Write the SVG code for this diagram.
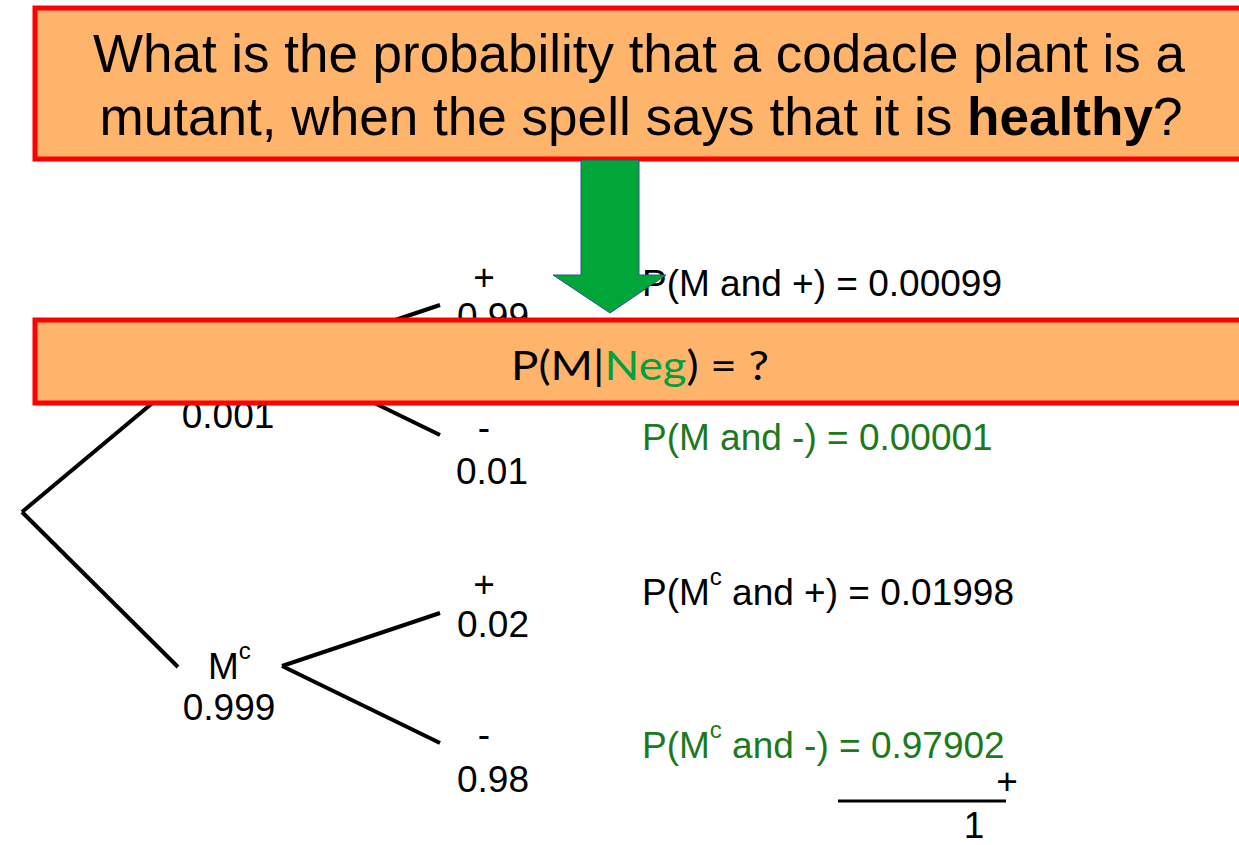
<svg xmlns="http://www.w3.org/2000/svg" width="1239" height="845" viewBox="0 0 1239 845">
<style>
.box{fill:#FFB46C;stroke:#FF0000;stroke-width:5}
.t{font-family:"Liberation Sans",Arial,sans-serif;font-size:37px;fill:#000}
.c{text-anchor:middle}
.g{fill:#1C7A1C}
.q{font-family:"Liberation Sans",Arial,sans-serif;font-size:53px;fill:#000;text-anchor:middle}
.ln{stroke:#000;stroke-width:4;fill:none;stroke-linecap:butt}
</style>
<rect width="1239" height="845" fill="#fff"/>
<g id="connectors">
<line class="ln" x1="22" y1="512" x2="180" y2="380"/>
<line class="ln" x1="22" y1="512" x2="178" y2="667"/>
<line class="ln" x1="282" y1="358" x2="440" y2="305"/>
<line class="ln" x1="282" y1="358" x2="440" y2="435"/>
<line class="ln" x1="282" y1="666" x2="440" y2="613"/>
<line class="ln" x1="282" y1="666" x2="440" y2="743"/>
<line x1="838" y1="801" x2="1006" y2="801" stroke="#000" stroke-width="3"/>
</g>
<g id="node-M">
<text class="t c" x="228" y="428">0.001</text>
</g>
<g id="node-Mc">
<text class="t" x="208" y="679">M<tspan font-size="24" dy="-20">c</tspan></text>
<text class="t c" x="229" y="720">0.999</text>
</g>
<g id="node-M-plus">
<text class="t c" x="484" y="290">+</text>
<text class="t c" x="493" y="329">0.99</text>
</g>
<g id="node-M-minus">
<text class="t c" x="484" y="440">-</text>
<text class="t c" x="492" y="484">0.01</text>
</g>
<g id="node-Mc-plus">
<text class="t c" x="484" y="597">+</text>
<text class="t c" x="493" y="637">0.02</text>
</g>
<g id="node-Mc-minus">
<text class="t c" x="484" y="747">-</text>
<text class="t c" x="493" y="792">0.98</text>
</g>
<g id="results">
<text class="t" x="642" y="296">P(M and +) = 0.00099</text>
<text class="t g" x="642" y="450">P(M and -) = 0.00001</text>
<text class="t" x="642" y="605">P(M<tspan font-size="24" dy="-20">c</tspan><tspan dy="20"> and +) = 0.01998</tspan></text>
<text class="t g" x="642" y="758">P(M<tspan font-size="24" dy="-20">c</tspan><tspan dy="20"> and -) = 0.97902</tspan></text>
<text class="t c" x="1007" y="794" font-size="30">+</text>
<text class="t c" x="974" y="838">1</text>
</g>
<g id="question">
<rect class="box" x="35" y="8" width="1230" height="151"/>
<text class="q" x="639" y="72" textLength="1092" lengthAdjust="spacingAndGlyphs">What is the probability that a codacle plant is a</text>
<text class="q" x="641" y="135" textLength="1083" lengthAdjust="spacingAndGlyphs">mutant, when the spell says that it is <tspan font-weight="bold">healthy</tspan>?</text>
</g>
<g id="arrow">
<polygon points="581,160 639,160 639,275 666,275 610,313 553,275 581,275" fill="#00A638" stroke="#2F528F" stroke-width="1"/>
</g>
<g id="answer">
<rect class="box" x="35" y="320" width="1230" height="83"/>
<text x="640" y="380" font-family="Lato,'Open Sans',sans-serif" font-size="40" text-anchor="middle" textLength="258" lengthAdjust="spacingAndGlyphs" fill="#000">P(M|<tspan fill="#00A03C">Neg</tspan>) = ?</text>
</g>
</svg>
